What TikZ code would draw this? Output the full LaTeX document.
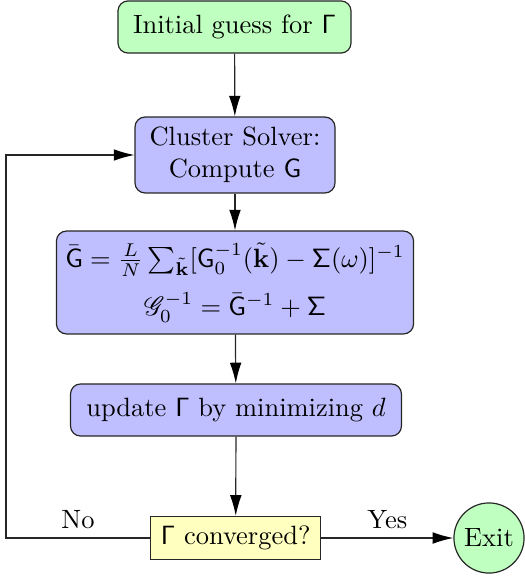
\documentclass[tikz,border=0pt]{standalone}
\usepackage{amsmath,amssymb,mathrsfs}
\usetikzlibrary{arrows.meta,positioning}
\definecolor{cgreen}{RGB}{191,255,191}
\definecolor{cblue}{RGB}{191,191,255}
\definecolor{cyellow}{RGB}{255,255,191}
\tikzset{
  box/.style={draw=black!85, line width=0.45pt, rounded corners=3.8pt, align=center, inner sep=2pt},
  decbox/.style={draw=black!85, line width=0.45pt, align=center, inner sep=2pt},
  endcirc/.style={draw=black!85, line width=0.45pt, circle, inner sep=1pt},
  conn/.style={draw=black!85, line width=0.45pt, -{Latex[length=7.8pt,width=4.4pt,color=black]}},
}
\begin{document}
\begin{tikzpicture}[x=0.378pt,y=-0.378pt]
\useasboundingbox (0,0) rectangle (525,581);
\node[box, fill=cgreen, minimum width=88.1pt, minimum height=19.7pt] (init) at (234.5,27) {Initial guess for $\mathsf{\Gamma}$};
\node[box, fill=cblue, minimum width=75.6pt, minimum height=28.7pt] (cs) at (235,155) {Cluster Solver:\\Compute $\mathsf{G}$};
\node[box, fill=cblue, minimum width=135pt, minimum height=38.9pt] (cg) at (235,282.5)
  {$\bar{\mathsf{G}} = \frac{L}{N}\sum_{\tilde{\mathbf{k}}}[\mathsf{G}_0^{-1}(\tilde{\mathbf{k}}) - \mathsf{\Sigma}(\omega)]^{-1}$\\[5pt]
   $\mathscr{G}_0^{-1} = \bar{\mathsf{G}}^{-1} + \mathsf{\Sigma}$};
\node[box, fill=cblue, minimum width=125.1pt, minimum height=19.7pt] (up) at (236,410) {update $\mathsf{\Gamma}$ by minimizing $d$};
\node[decbox, fill=cyellow, minimum width=64.3pt, minimum height=16.3pt] (conv) at (235.7,538) {$\mathsf{\Gamma}$ converged?};
\node[endcirc, fill=cgreen, minimum size=26.5pt] (exit) at (489,538) {Exit};
\coordinate (lp) at (6,538);
\draw[conn] (init) -- (cs);
\draw[conn] (cs) -- (cg);
\draw[conn] (cg) -- (up);
\draw[conn] (up) -- (conv);
\draw[conn] (conv) -- node[above] {Yes} (exit);
\draw[conn] (conv.west) -- node[above] {No} (lp) |- (cs.west);
\end{tikzpicture}
\end{document}
